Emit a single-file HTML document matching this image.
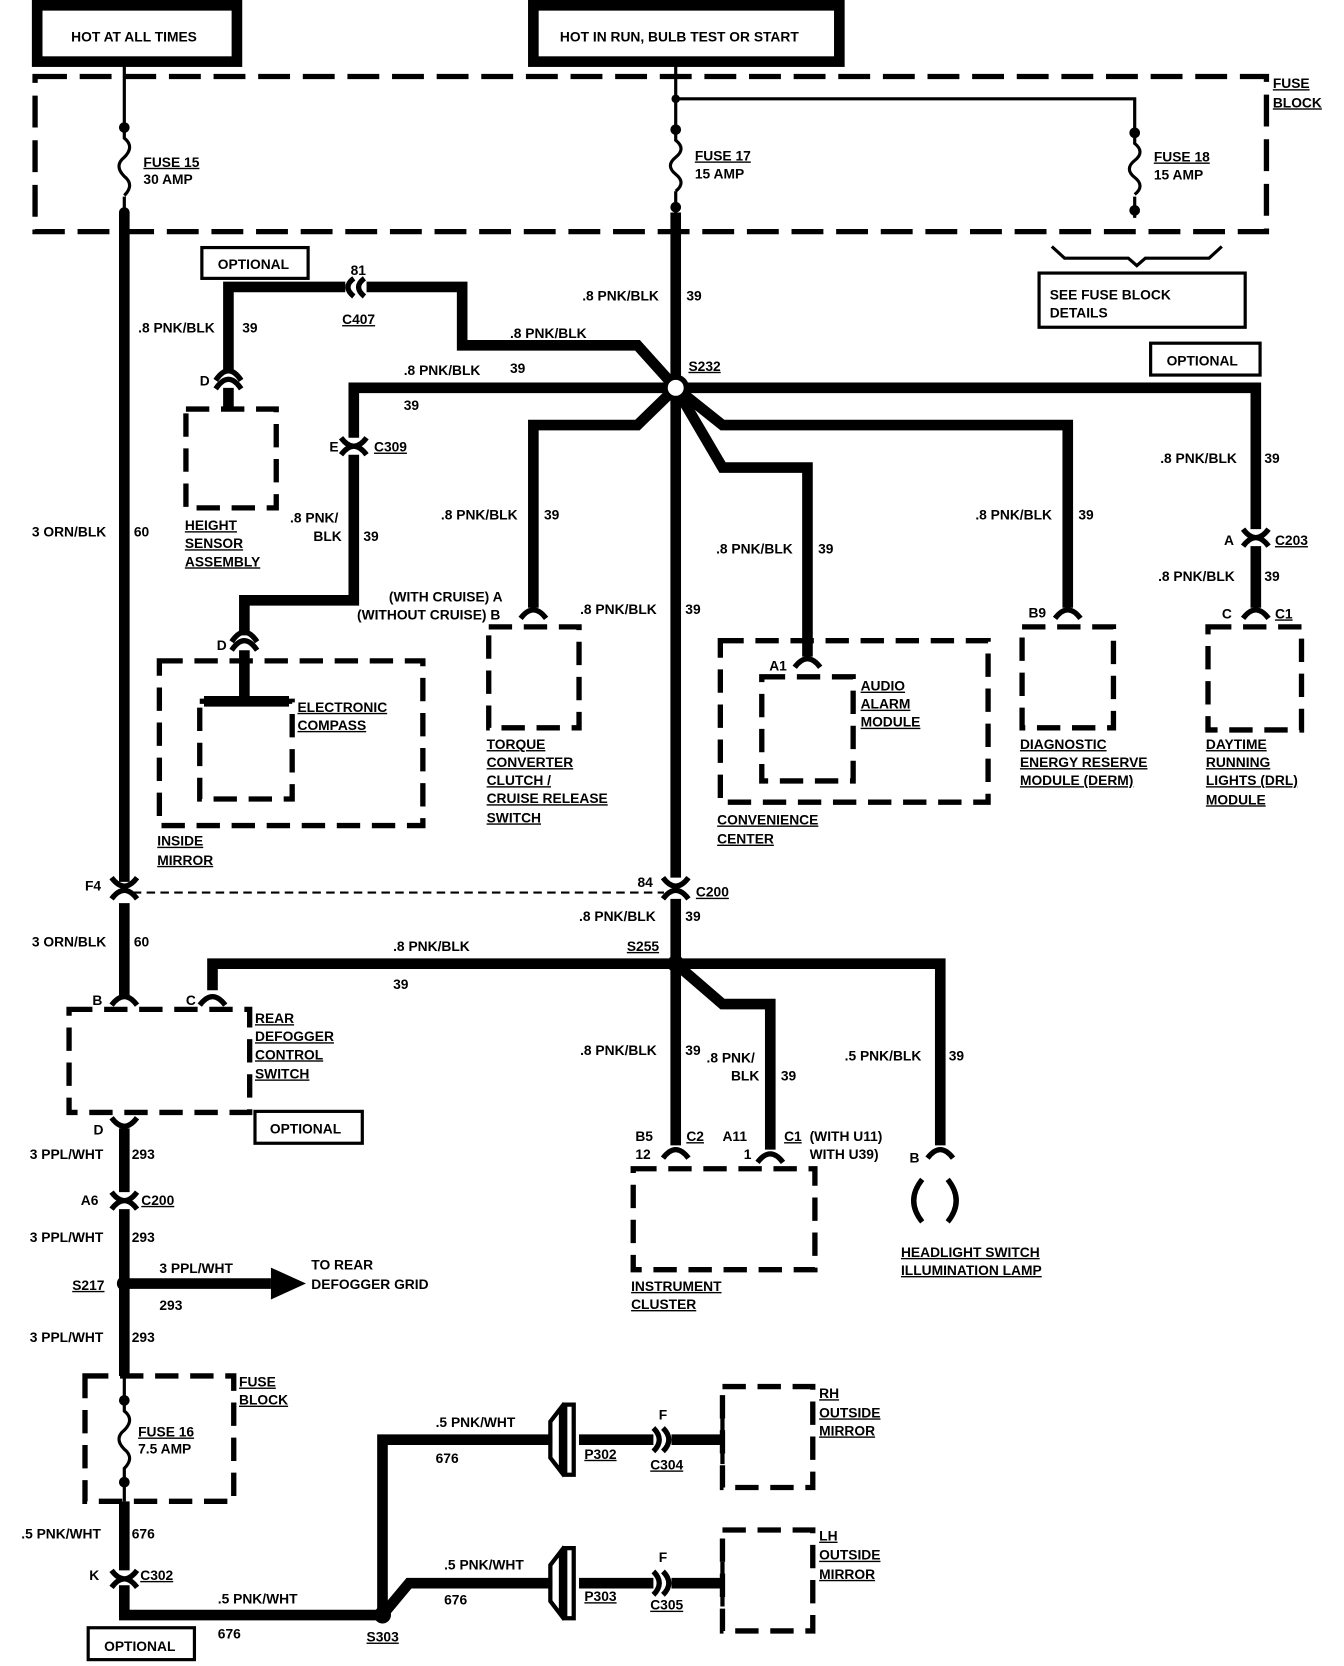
<!DOCTYPE html>
<html><head><meta charset="utf-8"><style>
html,body{margin:0;padding:0;background:#fff;}
svg{display:block;}
text{font-family:"Liberation Sans",sans-serif;font-weight:bold;font-size:13px;fill:#000;}
.u{text-decoration:underline;}
</style></head><body>
<svg width="1344" height="1666" viewBox="0 0 1265 1568" preserveAspectRatio="none" xmlns="http://www.w3.org/2000/svg">
<rect width="1265" height="1568" fill="#fff"/>
<g fill="none" stroke="#000" stroke-linejoin="miter">
<rect x="35" y="5" width="188" height="53" stroke-width="10"/>
<rect x="502" y="5" width="288" height="53" stroke-width="10"/>
<rect x="33" y="72" width="1159" height="146" stroke-width="5" stroke-dasharray="30 12"/>
<g stroke-width="3">
<path d="M117 62 V120 M117 185 V205"/>
<path d="M117 120 V130 q10 8 0 18 q-10 8 0 18 q10 8 0 18"/>
<path d="M636 62 V122 M636 180 V205 M636 93 H1068 V125 M1068 185 V205"/>
<path d="M636 122 V132 q10 8 0 16 q-10 8 0 16 q10 8 0 16"/>
<path d="M1068 125 V135 q10 8 0 16 q-10 8 0 16 q10 8 0 16"/>
<path d="M990 232 L1002 243 H1062 L1070 250 L1078 243 H1138 L1150 232"/>
<rect x="978" y="257" width="194" height="51"/>
<rect x="190" y="233" width="100" height="29"/>
<rect x="1083" y="323" width="103" height="30"/>
<rect x="240" y="1046" width="101" height="30"/>
<rect x="83" y="1532" width="100" height="30"/>
<path d="M125 840 H625" stroke-dasharray="8 5" stroke-width="2"/>
<path d="M117 1295 V1318 M117 1395 V1413"/>
<path d="M117 1318 V1328 q10 8 0 18 q-10 8 0 18 q10 8 0 18 V1395"/>
</g>
<g fill="#000" stroke="none">
<circle cx="117" cy="120" r="5"/><circle cx="117" cy="200" r="5"/>
<circle cx="636" cy="93" r="4"/><circle cx="636" cy="122" r="5"/><circle cx="636" cy="195" r="5"/>
<circle cx="1068" cy="125" r="5"/><circle cx="1068" cy="198" r="5"/>
<circle cx="117" cy="1318" r="5"/><circle cx="117" cy="1395" r="5"/>
</g>
<g stroke-width="10">
<path d="M117 200 V830 M117 850 V938"/>
<path d="M636 200 V365"/>
<path d="M636 365 L600 325 H435 V270 H345"/>
<path d="M325 270 H215 V350"/>
<path d="M215 365 V385"/>
<path d="M636 365 H333 V412"/>
<path d="M333 428 V565 H230 V598"/>
<path d="M230 612 V660 M192 660 H272"/>
<path d="M636 365 L600 400 H502 V572"/>
<path d="M636 365 V826"/>
<path d="M636 365 L680 440 H760 V618"/>
<path d="M636 365 L680 400 H1005 V572"/>
<path d="M636 365 H1182 V498 M1182 514 V572"/>
<path d="M636 846 V907"/>
<path d="M636 907 H200 V932"/>
<path d="M636 907 V1078"/>
<path d="M636 907 L680 945 H725 V1082"/>
<path d="M636 907 H885 V1078"/>
<path d="M117 1062 V1122 M117 1138 V1295 M117 1413 V1478 M117 1492 V1520 H360"/>
<path d="M117 1208 H255"/>
<path d="M360 1520 V1355 H520 M545 1355 H615 M632 1355 H680"/>
<path d="M360 1520 L385 1490 H520 M545 1490 H615 M632 1490 H680"/>
</g>
<g stroke-width="4">
<path d="M680 1335 V1378 M680 1470 V1512"/>
<path d="M528 1325 L518 1338 V1372 L528 1385 Z M532 1322 V1388 H540 V1322 Z"/>
<path d="M528 1460 L518 1473 V1507 L528 1520 Z M532 1457 V1523 H540 V1457 Z"/>
</g>
<polygon points="255,1193 288,1208 255,1223" fill="#000" stroke="none"/>
<g fill="#000" stroke="none"><circle cx="117" cy="1208" r="7"/><circle cx="360" cy="1520" r="8"/><circle cx="636" cy="907" r="8"/></g>
<circle cx="636" cy="365" r="10" fill="#fff" stroke-width="5"/>
<g stroke-width="5">
<path d="M343 262 Q332 270 343 279 M333 262 Q322 270 333 279"/>
<path d="M203 366 Q215 348 227 366 M203 358 Q215 340 227 358"/>
<path d="M321 412 Q333 428 345 412 M321 428 Q333 412 345 428"/>
<path d="M218 612 Q230 594 242 612 M218 604 Q230 586 242 604"/>
<path d="M490 582 Q502 566 514 582"/>
<path d="M748 628 Q760 612 772 628"/>
<path d="M993 582 Q1005 566 1017 582"/>
<path d="M1170 498 Q1182 514 1194 498 M1170 514 Q1182 498 1194 514"/>
<path d="M1170 582 Q1182 566 1194 582"/>
<path d="M105 826 Q117 842 129 826 M105 846 Q117 830 129 846"/>
<path d="M624 826 Q636 842 648 826 M624 846 Q636 830 648 846"/>
<path d="M105 946 Q117 930 129 946"/>
<path d="M188 946 Q200 930 212 946"/>
<path d="M105 1052 Q117 1068 129 1052"/>
<path d="M105 1122 Q117 1138 129 1122 M105 1138 Q117 1122 129 1138"/>
<path d="M105 1478 Q117 1494 129 1478 M105 1494 Q117 1478 129 1494"/>
<path d="M624 1090 Q636 1074 648 1090"/>
<path d="M713 1094 Q725 1078 737 1094"/>
<path d="M873 1090 Q885 1074 897 1090"/>
<path d="M615 1344 Q626 1355 615 1366 M624 1344 Q635 1355 624 1366"/>
<path d="M615 1479 Q626 1490 615 1501 M624 1479 Q635 1490 624 1501"/>
<path d="M868 1110 Q852 1130 868 1150 M892 1110 Q908 1130 892 1150"/>
</g>
<g stroke-width="5" stroke-dasharray="22 11">
<rect x="175" y="385" width="85" height="93"/>
<rect x="150" y="622" width="248" height="155"/>
<rect x="188" y="660" width="87" height="92"/>
<rect x="460" y="590" width="85" height="95"/>
<rect x="678" y="603" width="252" height="152"/>
<rect x="717" y="637" width="86" height="98"/>
<rect x="962" y="590" width="86" height="95"/>
<rect x="1137" y="590" width="88" height="97"/>
<rect x="65" y="950" width="170" height="97"/>
<rect x="596" y="1100" width="171" height="95"/>
<rect x="80" y="1295" width="140" height="118"/>
<rect x="680" y="1305" width="85" height="95"/>
<rect x="680" y="1440" width="85" height="95"/>
</g>
</g>
<text x="67" y="39">HOT AT ALL TIMES</text>
<text x="527" y="39">HOT IN RUN, BULB TEST OR START</text>
<text x="1198" y="83" class="u">FUSE</text><text x="1198" y="101" class="u">BLOCK</text>
<text x="135" y="157" class="u">FUSE 15</text><text x="135" y="173">30 AMP</text>
<text x="654" y="151" class="u">FUSE 17</text><text x="654" y="168">15 AMP</text>
<text x="1086" y="152" class="u">FUSE 18</text><text x="1086" y="169">15 AMP</text>
<text x="988" y="282">SEE FUSE BLOCK</text><text x="988" y="299">DETAILS</text>
<text x="205" y="253">OPTIONAL</text>
<text x="1098" y="344">OPTIONAL</text>
<text x="254" y="1067">OPTIONAL</text>
<text x="98" y="1554">OPTIONAL</text>
<text x="330" y="259">81</text><text x="322" y="305" class="u">C407</text>
<text x="130" y="313">.8 PNK/BLK</text><text x="228" y="313">39</text>
<text x="480" y="318">.8 PNK/BLK</text>
<text x="548" y="283">.8 PNK/BLK</text><text x="646" y="283">39</text>
<text x="648" y="349" class="u">S232</text>
<text x="380" y="353">.8 PNK/BLK</text><text x="480" y="351">39</text>
<text x="380" y="386">39</text>
<text x="188" y="363">D</text>
<text x="310" y="425">E</text><text x="352" y="425" class="u">C309</text>
<text x="174" y="499" class="u">HEIGHT</text><text x="174" y="516" class="u">SENSOR</text><text x="174" y="533" class="u">ASSEMBLY</text>
<text x="30" y="505">3 ORN/BLK</text><text x="126" y="505">60</text>
<text x="273" y="492">.8 PNK/</text><text x="295" y="509">BLK</text><text x="342" y="509">39</text>
<text x="415" y="489">.8 PNK/BLK</text><text x="512" y="489">39</text>
<text x="1092" y="436">.8 PNK/BLK</text><text x="1190" y="436">39</text>
<text x="918" y="489">.8 PNK/BLK</text><text x="1015" y="489">39</text>
<text x="674" y="521">.8 PNK/BLK</text><text x="770" y="521">39</text>
<text x="1152" y="513">A</text><text x="1200" y="513" class="u">C203</text>
<text x="1090" y="547">.8 PNK/BLK</text><text x="1190" y="547">39</text>
<text x="1150" y="582">C</text><text x="1200" y="582" class="u">C1</text>
<text x="968" y="581">B9</text>
<text x="366" y="566">(WITH CRUISE)  A</text><text x="336" y="583">(WITHOUT CRUISE)  B</text>
<text x="546" y="578">.8 PNK/BLK</text><text x="645" y="578">39</text>
<text x="204" y="612">D</text>
<text x="280" y="670" class="u">ELECTRONIC</text><text x="280" y="687" class="u">COMPASS</text>
<text x="724" y="631">A1</text>
<text x="810" y="650" class="u">AUDIO</text><text x="810" y="667" class="u">ALARM</text><text x="810" y="684" class="u">MODULE</text>
<text x="458" y="705" class="u">TORQUE</text><text x="458" y="722" class="u">CONVERTER</text><text x="458" y="739" class="u">CLUTCH /</text><text x="458" y="756" class="u">CRUISE RELEASE</text><text x="458" y="774" class="u">SWITCH</text>
<text x="960" y="705" class="u">DIAGNOSTIC</text><text x="960" y="722" class="u">ENERGY RESERVE</text><text x="960" y="739" class="u">MODULE (DERM)</text>
<text x="1135" y="705" class="u">DAYTIME</text><text x="1135" y="722" class="u">RUNNING</text><text x="1135" y="739" class="u">LIGHTS (DRL)</text><text x="1135" y="757" class="u">MODULE</text>
<text x="675" y="776" class="u">CONVENIENCE</text><text x="675" y="794" class="u">CENTER</text>
<text x="148" y="796" class="u">INSIDE</text><text x="148" y="814" class="u">MIRROR</text>
<text x="80" y="838">F4</text>
<text x="600" y="835">84</text><text x="655" y="844" class="u">C200</text>
<text x="545" y="867">.8 PNK/BLK</text><text x="645" y="867">39</text>
<text x="30" y="891">3 ORN/BLK</text><text x="126" y="891">60</text>
<text x="370" y="895">.8 PNK/BLK</text><text x="590" y="895" class="u">S255</text>
<text x="370" y="931">39</text>
<text x="87" y="946">B</text><text x="175" y="946">C</text>
<text x="240" y="963" class="u">REAR</text><text x="240" y="980" class="u">DEFOGGER</text><text x="240" y="997" class="u">CONTROL</text><text x="240" y="1015" class="u">SWITCH</text>
<text x="546" y="993">.8 PNK/BLK</text><text x="645" y="993">39</text>
<text x="665" y="1000">.8 PNK/</text><text x="688" y="1017">BLK</text><text x="735" y="1017">39</text>
<text x="795" y="998">.5 PNK/BLK</text><text x="893" y="998">39</text>
<text x="88" y="1068">D</text>
<text x="28" y="1091">3 PPL/WHT</text><text x="124" y="1091">293</text>
<text x="76" y="1134">A6</text><text x="133" y="1134" class="u">C200</text>
<text x="28" y="1169">3 PPL/WHT</text><text x="124" y="1169">293</text>
<text x="68" y="1214" class="u">S217</text>
<text x="150" y="1198">3 PPL/WHT</text><text x="150" y="1233">293</text>
<text x="293" y="1195">TO REAR</text><text x="293" y="1213">DEFOGGER GRID</text>
<text x="28" y="1263">3 PPL/WHT</text><text x="124" y="1263">293</text>
<text x="598" y="1074">B5</text><text x="646" y="1074" class="u">C2</text>
<text x="598" y="1091">12</text>
<text x="680" y="1074">A11</text><text x="738" y="1074" class="u">C1</text><text x="762" y="1074">(WITH U11)</text>
<text x="700" y="1091">1</text><text x="762" y="1091">WITH U39)</text>
<text x="856" y="1094">B</text>
<text x="594" y="1215" class="u">INSTRUMENT</text><text x="594" y="1232" class="u">CLUSTER</text>
<text x="848" y="1183" class="u">HEADLIGHT SWITCH</text><text x="848" y="1200" class="u">ILLUMINATION LAMP</text>
<text x="225" y="1305" class="u">FUSE</text><text x="225" y="1322" class="u">BLOCK</text>
<text x="130" y="1352" class="u">FUSE 16</text><text x="130" y="1368">7.5 AMP</text>
<text x="410" y="1343">.5 PNK/WHT</text><text x="410" y="1377">676</text>
<text x="550" y="1373" class="u">P302</text><text x="620" y="1336">F</text><text x="612" y="1383" class="u">C304</text>
<text x="771" y="1316" class="u">RH</text><text x="771" y="1334" class="u">OUTSIDE</text><text x="771" y="1351" class="u">MIRROR</text>
<text x="418" y="1477">.5 PNK/WHT</text><text x="418" y="1510">676</text>
<text x="550" y="1507" class="u">P303</text><text x="620" y="1470">F</text><text x="612" y="1515" class="u">C305</text>
<text x="771" y="1450" class="u">LH</text><text x="771" y="1468" class="u">OUTSIDE</text><text x="771" y="1486" class="u">MIRROR</text>
<text x="20" y="1448">.5 PNK/WHT</text><text x="124" y="1448">676</text>
<text x="84" y="1487">K</text><text x="132" y="1487" class="u">C302</text>
<text x="205" y="1509">.5 PNK/WHT</text><text x="205" y="1542">676</text>
<text x="345" y="1545" class="u">S303</text>
</svg>
</body></html>
